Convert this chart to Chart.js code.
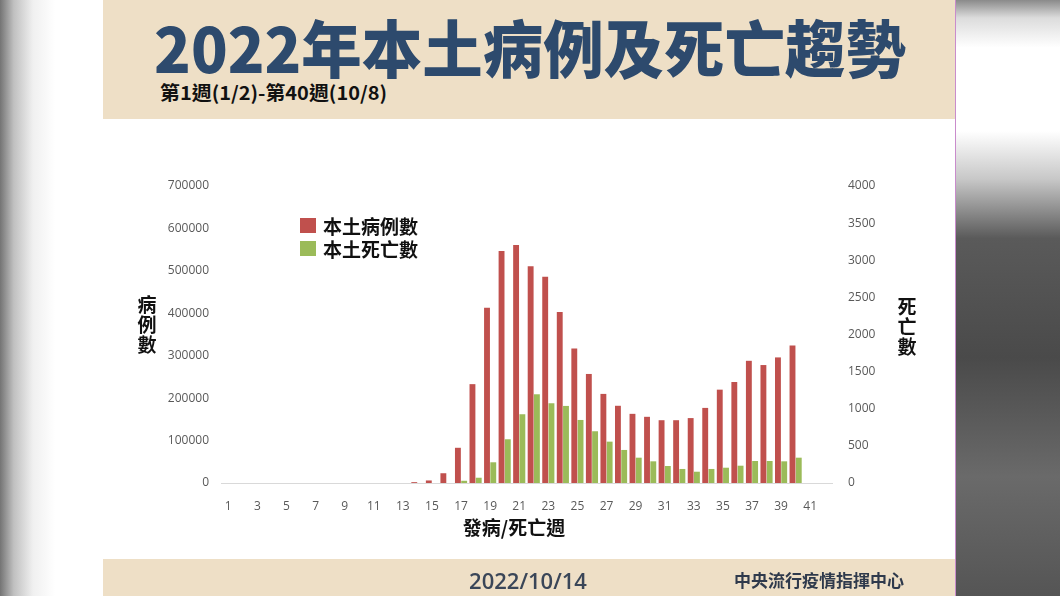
<!DOCTYPE html>
<html lang="zh-Hant">
<head>
<meta charset="UTF-8">
<title>2022年本土病例及死亡趨勢</title>
<script src="https://cdn.jsdelivr.net/npm/chart.js@4.4.1"></script>
<style>
  html,body{margin:0;padding:0;}
  body{width:1060px;height:596px;position:relative;overflow:hidden;background:#fff;
    font-family:"Noto Sans CJK TC","Noto Sans",sans-serif;}
  .edgeL{position:absolute;left:0;top:0;width:55px;height:596px;
    background:linear-gradient(to right,#747474 0%,#c0c0c0 25%,#f0f0f0 60%,#fff 100%);}
  .edgeR{position:absolute;left:956px;top:0;width:104px;height:596px;
    background:linear-gradient(to bottom,#8a8a8a 0%,#dcdcdc 3%,#fff 8%,#fff 22%,#c8c8c8 30%,#5a5a5a 40%,#4a4a4a 60%,#6a6a6a 80%,#555 100%);}
  .pink{position:absolute;left:955px;top:0;width:1px;height:596px;background:#c98ccc;}
  .band{position:absolute;left:103px;width:852px;background:#eedfc6;}
  .title{position:absolute;left:530px;top:8px;white-space:nowrap;font-weight:900;font-size:62px;
    color:#2d4a6d;transform:translateX(-50%) scaleX(0.975);transform-origin:center;line-height:76px;}
  .sub{position:absolute;left:160px;top:78px;font-weight:700;font-size:19px;color:#111;white-space:nowrap;
    transform:scaleX(1.05);transform-origin:left center;}
  canvas{position:absolute;left:0;top:0;}
  .ytitle{position:absolute;width:24px;text-align:center;font-weight:700;font-size:19px;line-height:20px;color:#111;}
  .xtitle{position:absolute;left:514px;top:513px;transform:translateX(-50%);font-weight:700;font-size:19px;color:#111;white-space:nowrap;}
  .legend{position:absolute;left:300px;top:214px;font-weight:700;font-size:19px;color:#111;}
  .legend div{display:flex;align-items:center;height:23px;}
  .legend span.sw{display:inline-block;width:16px;height:15px;margin-right:7px;}
  .date{position:absolute;left:528px;top:565px;transform:translateX(-50%);font-size:22px;font-weight:600;color:#3a4658;
    font-family:"Open Sans",sans-serif;}
  .org{position:absolute;left:734px;top:567px;font-size:17px;font-weight:700;color:#2f3a4c;white-space:nowrap;}
</style>
</head>
<body>
<div class="edgeL"></div>
<div class="edgeR"></div>
<div class="pink"></div>
<div class="band" style="top:0;height:119px;"></div>
<div class="band" style="top:559px;height:37px;"></div>
<div class="title">2022年本土病例及死亡趨勢</div>
<div class="sub">第1週(1/2)-第40週(10/8)</div>
<canvas id="c" width="1060" height="596"></canvas>
<div class="ytitle" style="left:135px;top:294px;">病<br>例<br>數</div>
<div class="ytitle" style="left:895px;top:296px;">死<br>亡<br>數</div>
<div class="xtitle">發病/死亡週</div>
<div class="legend">
  <div><span class="sw" style="background:#c0504d"></span>本土病例數</div>
  <div><span class="sw" style="background:#9bbb59"></span>本土死亡數</div>
</div>
<div class="date">2022/10/14</div>
<div class="org">中央流行疫情指揮中心</div>
<script>
const weeks=[];for(let w=1;w<=42;w++)weeks.push(String(w));
const cases=[0,0,0,0,0,0,0,0,0,0,0,0,0,2000,6000,23000,83000,233000,413000,547000,
  561000,511000,486000,403000,317000,257000,210000,182000,163000,156000,
  148000,148000,153000,177000,220000,238000,288000,278000,296000,324000,null,null];
const deaths=[0,0,0,0,0,0,0,0,0,0,0,0,0,0,0,0,30,71,279,589,
  926,1195,1074,1038,849,697,557,445,341,292,
  229,189,152,189,206,233,296,296,292,341,null,null];
const leftTicks=[0,100000,200000,300000,400000,500000,600000,700000];
const rightTicks=[0,500,1000,1500,2000,2500,3000,3500,4000];

const tickFont={family:'"Open Sans",sans-serif',size:12};
const tickColor='#595959';

new Chart(document.getElementById('c'),{
  type:'bar',
  data:{labels:weeks,datasets:[
    {label:'本土病例數',data:cases,backgroundColor:'#c0504d',yAxisID:'y',categoryPercentage:0.86,barPercentage:0.94},
    {label:'本土死亡數',data:deaths,backgroundColor:'#9bbb59',yAxisID:'y1',categoryPercentage:0.86,barPercentage:0.94}
  ]},
  options:{
    responsive:false,animation:false,
    layout:{padding:{left:161,right:168,top:186,bottom:83}},
    plugins:{legend:{display:false},tooltip:{enabled:false}},
    scales:{
      x:{grid:{display:false},border:{color:'#d9d9d9',width:1},
        ticks:{color:tickColor,font:tickFont,autoSkip:false,maxRotation:0,padding:8,
          callback:(v,i)=>i%2===0?weeks[i]:''},
        afterFit:s=>{s.height=30;}},
      y:{position:'left',min:0,max:700000,grid:{display:false},border:{display:false},
        afterBuildTicks:s=>{s.ticks=leftTicks.map(v=>({value:v}));},
        ticks:{color:tickColor,font:tickFont,padding:4,callback:v=>String(v)},
        afterFit:s=>{s.width=60;}},
      y1:{position:'right',min:0,max:4000,grid:{display:false},border:{display:false},
        afterBuildTicks:s=>{s.ticks=rightTicks.map(v=>({value:v}));},
        ticks:{color:tickColor,font:tickFont,padding:8,callback:v=>String(v)},
        afterFit:s=>{s.width=60;}}
    }
  }
});
</script>
</body>
</html>
